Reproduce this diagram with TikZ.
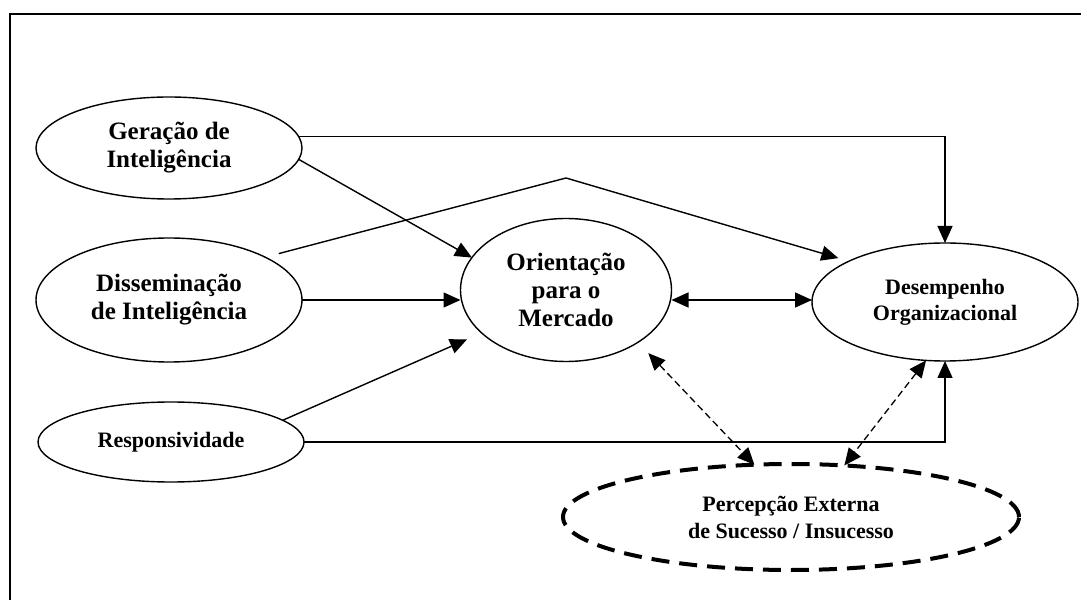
\documentclass[tikz,border=0pt]{standalone}
\usepackage{fontspec}
\setmainfont{Liberation Serif}
\usetikzlibrary{shapes.geometric,arrows.meta}

\begin{document}
\begin{tikzpicture}[x=1pt,y=1pt,
  construto/.style={ellipse,draw=drawColor,line width=1.4pt,inner sep=0pt,outer sep=0pt,align=center,font=\bfseries\fontsize{25}{28}\selectfont},
  menor/.style={font=\bfseries\fontsize{22}{27}\selectfont},
  seta/.style={draw=drawColor,line width=1.4pt,-{Triangle[length=17pt,width=15pt]}},
  setadupla/.style={draw=drawColor,line width=1.4pt,{Triangle[length=17pt,width=15pt]}-{Triangle[length=17pt,width=15pt]}},
  tracejado/.style={line width=1.3pt,dash pattern=on 7pt off 4pt}]
\definecolor{fillColor}{RGB}{255,255,255}
\definecolor{drawColor}{RGB}{0,0,0}
\path[use as bounding box,fill=fillColor] (0,0) rectangle (1081,600);

% moldura
\path[draw=drawColor,line width=2pt] (9.5,0) -- (9.5,586) -- (1082,586);

% construtos
\node[construto,minimum width=266,minimum height=102] (ger) at (169,452) {Geração de\\Inteligência};
\node[construto,minimum width=266,minimum height=124] (dis) at (169,300) {Disseminação\\de Inteligência};
\node[construto,menor,minimum width=266,minimum height=80] (res) at (171,158) {Responsividade};
\node[construto,minimum width=211,minimum height=143] (ori) at (566,310) {Orientação\\para o\\Mercado};
\node[construto,menor,minimum width=266,minimum height=118,font=\bfseries\fontsize{22}{26}\selectfont] (des) at (945,298) {Desempenho\\Organizacional};
\node[construto,menor,minimum width=456,minimum height=106,line width=4pt,dash pattern=on 18pt off 10pt] (per) at (791,83) {Percepção Externa\\de Sucesso / Insucesso};

\coordinate (topo) at (566,422);

% relacoes
\path[seta] (ger.5) -| (des.north);
\path[seta] (ger.-5) -- (ori.161);
\path[seta,shorten <=14pt,shorten >=11pt] (dis.24) -- (topo) -- (des.157);
\path[seta] (dis.east) -- (dis.east -| ori.west);
\path[setadupla] ([yshift=-10pt]ori.east) -- ([yshift=-10pt]ori.east -| des.west);
\path[seta,shorten >=16pt] (res.11) -- (ori.207);
\path[seta] (res.east) -| (des.south);

\path[setadupla,tracejado,shorten <=15pt] (ori.-36) -- (per.125);
\path[setadupla,tracejado] (des.252) -- (per.44);
\end{tikzpicture}
\end{document}
